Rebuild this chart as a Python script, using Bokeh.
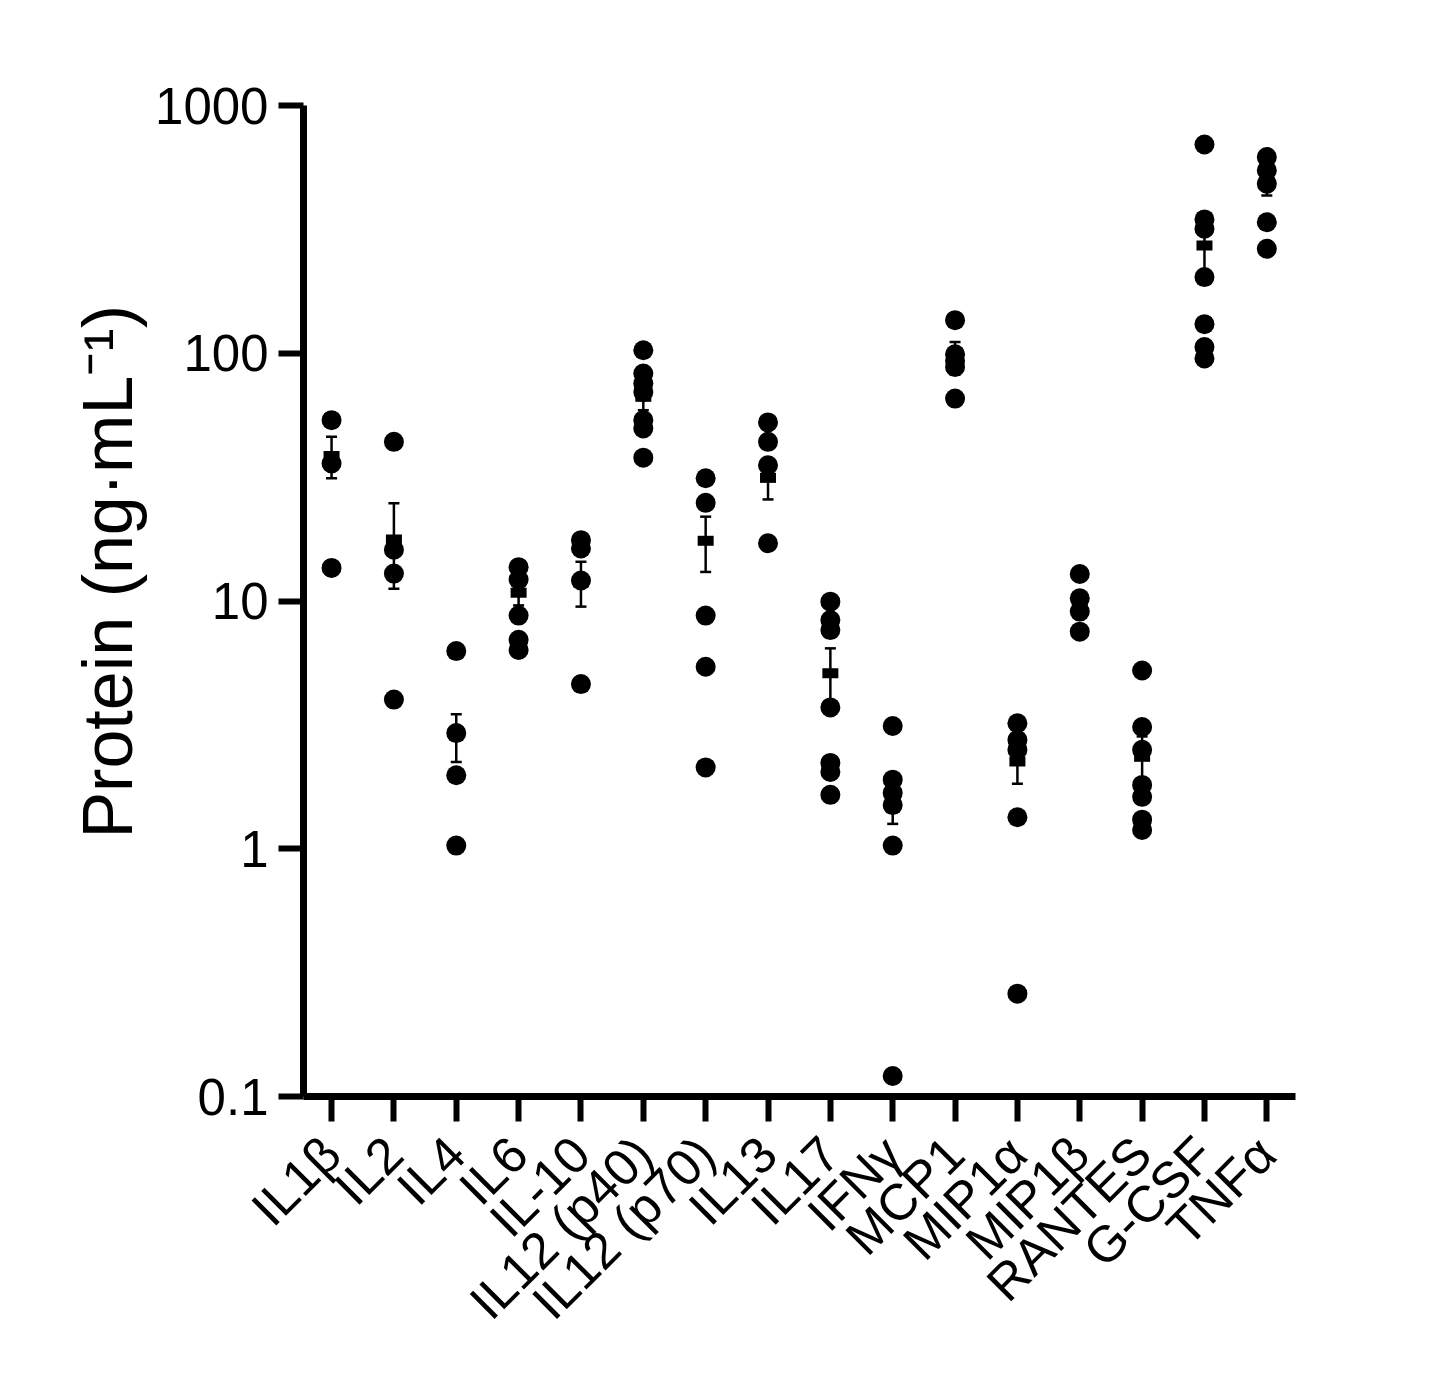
import math
from bokeh.plotting import figure
from bokeh.models import Range1d, FixedTicker, NumeralTickFormatter, Whisker, TeeHead, ColumnDataSource
from bokeh.embed import file_html
from bokeh.resources import INLINE

categories = ["IL1β", "IL2", "IL4", "IL6", "IL-10", "IL12 (p40)", "IL12 (p70)", "IL13",
              "IL17", "IFNγ", "MCP1", "MIP1α", "MIP1β", "RANTES", "G-CSF", "TNFα"]

il1b = [53.7, 35.9, 13.6]
il2 = [43.9, 16.1, 12.9, 4.0]
il4 = [6.28, 2.93, 1.98, 1.03]
il6 = [13.7, 12.2, 8.73, 6.97, 6.34]
il10 = [17.6, 16.3, 12.1, 4.62]
il12p40 = [102.8, 82.8, 75.5, 69.8, 53.7, 49.7, 37.9]
il12p70 = [31.3, 24.9, 8.73, 5.43, 2.13]
il13 = [52.6, 43.9, 35.3, 17.1]
il17 = [9.94, 8.38, 7.63, 3.72, 2.22, 2.04, 1.65]
ifng = [3.13, 1.90, 1.68, 1.50, 1.03, 0.121]
mcp1 = [136, 99, 93, 88, 65.6]
mip1a = [3.21, 2.75, 2.51, 1.34, 0.26]
mip1b = [12.85, 10.25, 9.06, 7.52]
rantes = [5.24, 3.10, 2.51, 1.81, 1.62, 1.31, 1.19]
gcsf = [696, 347, 318, 203, 131, 106, 95.3]
tnfa = [619, 547, 483, 338, 264]

means = [38.5, 17.7, 2.93, 10.8, 11.9, 66.7, 17.5, 31.4, 5.11, 1.55, 96, 2.25, 9.9, 2.35, 272, 490]
err_low = [31.3, 11.2, 2.24, 9.6, 9.49, 58.9, 13.1, 25.7, 3.8, 1.26, 82, 1.83, 9.0, 1.86, 191, 433]
err_high = [46.0, 24.8, 3.49, 12.0, 14.4, 74.5, 21.9, 37.1, 6.44, 1.84, 111, 2.67, 10.8, 2.84, 352, 547]

y_ticks = [0.1, 1, 10, 100, 1000]

series = [il1b, il2, il4, il6, il10, il12p40, il12p70, il13, il17, ifng, mcp1, mip1a, mip1b, rantes, gcsf, tnfa]
px, py = [], []
for i, vals in enumerate(series):
    for v in vals:
        px.append(i)
        py.append(v)

xs = list(range(len(categories)))

p = figure(frame_width=992, frame_height=991, y_axis_type="log",
           x_range=Range1d(-0.45, len(categories) - 1 + 0.46),
           y_range=Range1d(0.1, 1000),
           output_backend="svg", toolbar_location=None,
           min_border_left=303, min_border_top=105, min_border_right=130, min_border_bottom=150)
p.outline_line_color = None
p.xgrid.visible = False
p.ygrid.visible = False
p.background_fill_color = "white"
p.border_fill_color = "white"

src_err = ColumnDataSource(dict(x=xs, lo=err_low, hi=err_high, m=means))
wh = Whisker(source=src_err, base="x", lower="lo", upper="hi", dimension="height",
             line_color="black", line_width=2.5,
             upper_head=TeeHead(size=11, line_width=2.5, line_color="black"),
             lower_head=TeeHead(size=11, line_width=2.5, line_color="black"))
p.add_layout(wh)
p.rect(x="x", y="m", width=16, height=10, width_units="screen", height_units="screen",
       source=src_err, fill_color="black", line_color=None)

p.scatter(px, py, size=20, marker="circle", fill_color="black", line_color=None)

font = "Liberation Sans"
for ax in [p.xaxis, p.yaxis]:
    ax.axis_line_width = 7
    ax.axis_line_color = "black"
    ax.major_tick_line_width = 6
    ax.major_tick_line_color = "black"
    ax.major_tick_out = 25
    ax.major_tick_in = 0
    ax.minor_tick_line_color = None
    ax.major_label_text_font = font
    ax.major_label_text_color = "black"

p.yaxis.ticker = FixedTicker(ticks=y_ticks, minor_ticks=[])
p.yaxis.formatter = NumeralTickFormatter(format="0.[0]")
p.yaxis.major_label_text_font_size = "51px"
p.yaxis.major_label_standoff = 10
p.yaxis.axis_label = "\u00a0\u00a0\u00a0Protein (ng·mL⁻¹)"
p.yaxis.axis_label_text_font = font
p.yaxis.axis_label_text_color = "black"
p.yaxis.axis_label_text_font_style = "normal"
p.yaxis.axis_label_text_font_size = "70px"
p.yaxis.axis_label_standoff = 5

p.xaxis.ticker = FixedTicker(ticks=xs, minor_ticks=[])
p.xaxis.major_label_overrides = {i: c for i, c in enumerate(categories)}
p.xaxis.major_label_orientation = math.pi / 4
p.xaxis.major_label_text_font_size = "51px"
p.xaxis.major_label_standoff = 24

open("out.html", "w").write(file_html(p, INLINE))
